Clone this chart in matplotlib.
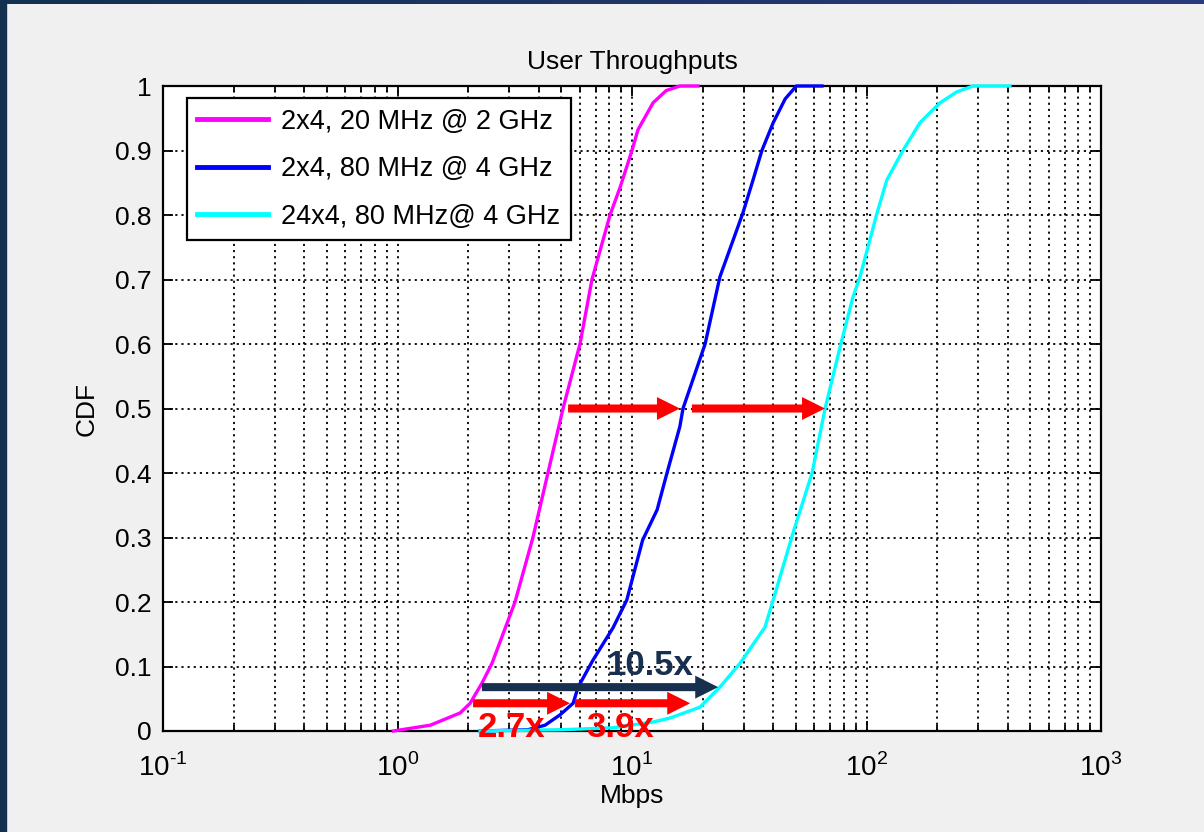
import matplotlib
matplotlib.use("Agg")
import matplotlib.pyplot as plt
import numpy as np
from matplotlib.ticker import LogLocator, FixedLocator, FuncFormatter

# CDF curves (Mbps, CDF)
mag_x = [0.96, 1.38, 1.85, 2.04, 2.29, 2.53, 3.17, 3.78, 4.38, 5.08, 6.0, 6.75, 8.06, 8.9, 10.0, 10.6, 12.3, 14.0, 16.0, 19.1]
mag_y = [0.0, 0.009, 0.028, 0.043, 0.074, 0.105, 0.20, 0.30, 0.40, 0.50, 0.60, 0.70, 0.80, 0.843, 0.90, 0.932, 0.974, 0.993, 1.0, 1.0]

blu_x = [2.25, 3.6, 4.26, 4.93, 5.61, 5.89, 6.82, 8.3, 9.5, 11.1, 12.8, 14.1, 16.0, 16.5, 20.5, 23.7, 29.7, 32.8, 35.8, 40.0, 45.0, 48.6, 50.2, 64.6]
blu_y = [0.0, 0.002, 0.009, 0.025, 0.043, 0.068, 0.11, 0.16, 0.203, 0.296, 0.343, 0.40, 0.472, 0.50, 0.60, 0.704, 0.803, 0.854, 0.90, 0.943, 0.98, 0.994, 1.0, 1.0]

cya_x = [2.25, 5.0, 8.3, 12.3, 14.5, 19.5, 23.7, 28.9, 36.9, 40.0, 48.6, 58.6, 66.6, 77.1, 87.6, 93.8, 110.9, 122.0, 143.0, 169.0, 206.0, 243.0, 285.0, 409.0]
cya_y = [0.0, 0.002, 0.005, 0.014, 0.02, 0.037, 0.068, 0.105, 0.161, 0.203, 0.307, 0.40, 0.50, 0.595, 0.673, 0.704, 0.803, 0.854, 0.90, 0.943, 0.974, 0.991, 1.0, 1.0]

labels = ["2x4, 20 MHz @ 2 GHz", "2x4, 80 MHz @ 4 GHz", "24x4, 80 MHz@ 4 GHz"]

# gain arrows: (start, end, cdf level)
red_arrows = [(5.34, 16.0, 0.5), (18.0, 66.5, 0.5), (2.10, 5.44, 0.043), (5.71, 17.7, 0.043)]
navy_arrow = (2.29, 23.3, 0.068)
gain_texts = [("10.5x", 11.9, 0.102, "#17304f"), ("2.7x", 3.05, 0.005, "red"), ("3.9x", 8.89, 0.005, "red")]

yticks = [0, 0.1, 0.2, 0.3, 0.4, 0.5, 0.6, 0.7, 0.8, 0.9, 1]
xticks = [0.1, 1, 10, 100, 1000]

plt.rcParams["font.family"] = ["Liberation Sans", "DejaVu Sans"]
plt.rcParams["mathtext.fontset"] = "custom"
plt.rcParams["mathtext.rm"] = "Liberation Sans"

fig = plt.figure(figsize=(12.04, 8.32), dpi=100, facecolor="#f0f0f0")

# slide frame strips
strip = fig.add_axes([0, 1 - 4 / 832, 1, 4 / 832])
strip.imshow(np.linspace(0, 1, 256)[None, :], aspect="auto",
             cmap=matplotlib.colors.LinearSegmentedColormap.from_list("f", ["#12304f", "#2a3a7e"]))
strip.axis("off")
fig.patches.append(plt.Rectangle((0, 0), 6 / 1204, 1, transform=fig.transFigure, color="#12304f", zorder=10))

ax = fig.add_axes([163 / 1204, 1 - 731 / 832, 938 / 1204, 645 / 832])
ax.set_facecolor("white")

for xs, ys, c, lab in ((mag_x, mag_y, "#ff00ff", labels[0]),
                       (blu_x, blu_y, "#0000ff", labels[1]),
                       (cya_x, cya_y, "#00ffff", labels[2])):
    ax.plot(xs, ys, color=c, lw=2.4, label=lab, clip_on=False, zorder=3)

ax.set_xscale("log")
ax.set_xlim(0.1, 1000)
ax.set_ylim(0, 1)
ax.yaxis.set_major_locator(FixedLocator(yticks))
ax.yaxis.set_major_formatter(FuncFormatter(lambda v, p: "%g" % v))
ax.xaxis.set_major_locator(FixedLocator(xticks))
ax.xaxis.set_major_formatter(FuncFormatter(lambda v, p: r"$10^{\text{%d}}$" % round(np.log10(v))))
ax.xaxis.set_minor_locator(LogLocator(base=10, subs=np.arange(2, 10), numticks=20))

ax.grid(True, which="major", color="black", linestyle=(0, (1.2, 2.2)), linewidth=1.3)
ax.grid(True, which="minor", axis="x", color="black", linestyle=(0, (1.2, 2.2)), linewidth=1.3)
ax.tick_params(which="both", direction="in", top=True, right=True, width=1.3)
ax.tick_params(which="major", length=7)
ax.tick_params(which="minor", length=4)
ax.tick_params(axis="y", labelsize=19, pad=8)
ax.tick_params(axis="x", labelsize=20, pad=16)
for s in ax.spines.values():
    s.set_linewidth(1.6)
    s.set_zorder(2.5)

ax.set_title("User Throughputs", fontsize=19, pad=12)
ax.set_xlabel("Mbps", fontsize=19, labelpad=2)
ax.set_ylabel("CDF", fontsize=19, labelpad=12)

leg = ax.legend(loc="upper left", bbox_to_anchor=(0.0256, 0.981), borderaxespad=0, fontsize=19.5,
                fancybox=False, framealpha=1, edgecolor="black", handlelength=2.6, handletextpad=0.5,
                labelspacing=0.8, borderpad=0.38)
leg.get_frame().set_linewidth(1.6)
leg.set_zorder(7)
for ln in leg.get_lines():
    ln.set_linewidth(3.5)

arrow_style = "simple,head_length=16.5,head_width=16.5,tail_width=5.8"
for x0, x1, y in red_arrows:
    ax.annotate("", xy=(x1, y), xytext=(x0, y),
                arrowprops=dict(arrowstyle=arrow_style, mutation_scale=1, color="red", lw=0,
                                shrinkA=0, shrinkB=0), zorder=5)
x0, x1, y = navy_arrow
ax.annotate("", xy=(x1, y), xytext=(x0, y),
            arrowprops=dict(arrowstyle=arrow_style, mutation_scale=1, color="#17304f", lw=0,
                            shrinkA=0, shrinkB=0), zorder=5)
for txt, x, y, c in gain_texts:
    ax.text(x, y, txt, color=c, fontsize=25, fontweight="bold", ha="center", va="center",
            clip_on=False, zorder=6)

fig.savefig("out.png", dpi=100, facecolor=fig.get_facecolor())
